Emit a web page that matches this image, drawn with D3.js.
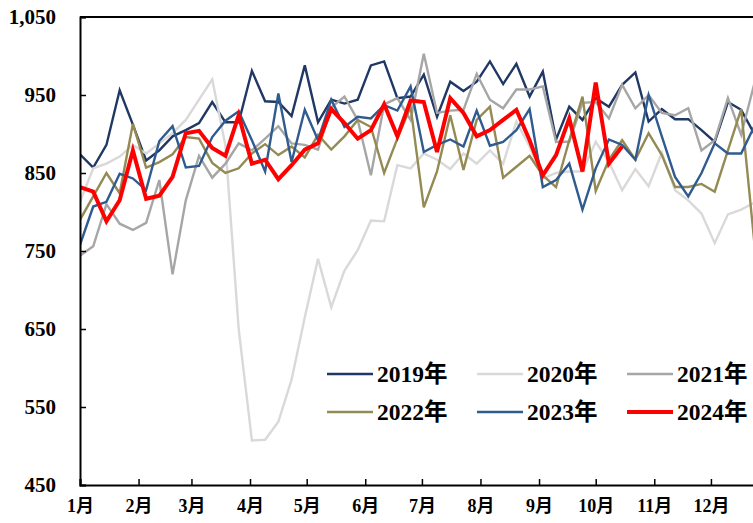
<!DOCTYPE html>
<html lang="zh">
<head>
<meta charset="UTF-8">
<title>周度走势 2019-2024</title>
<script src="https://cdn.jsdelivr.net/npm/d3@7"></script>
<style>
  body {margin: 0; background: #fff;}
  svg {display: block;}
  text {font-family: "Liberation Serif", "Times New Roman", "Noto Sans CJK SC", serif; font-weight: bold; fill: #000;}
</style>
</head>
<body>
<svg id="chart"></svg>
<script>
// DATA: weekly values, one point every 7 days from Jan 1
const months = ["1月","2月","3月","4月","5月","6月","7月","8月","9月","10月","11月","12月"];
const monthStartDay = [0,31,59,90,120,151,181,212,243,273,304,334];
const yTicks = [450,550,650,750,850,950,1050];

const y2019 = [874,857,886,956,912,866,879,897,905,914,941,915,915,981,942,941,923,988,915,944,
               939,944,988,993,946,948,976,922,967,955,967,993,964,990,948,980,893,935,918,946,
               935,963,979,916,932,919,919,905,890,941,931,900];
const y2020 = [813,856,862,871,886,875,888,901,918,944,970,885,650,507,508,531,585,665,740,678,
               725,751,789,788,860,856,875,867,855,875,862,879,862,916,884,843,850,852,852,890,
               864,828,855,833,876,828,815,798,760,797,803,812];
const y2021 = [744,756,810,785,777,786,841,720,815,872,844,862,888,879,894,910,888,886,880,934,
               948,918,847,938,946,918,1003,927,930,931,977,944,933,957,957,961,890,890,940,941,
               920,963,933,950,927,924,933,879,892,946,899,965];
const y2022 = [790,820,850,824,913,857,864,874,896,894,863,850,856,875,887,873,884,870,899,880,
               897,918,909,850,894,935,806,852,924,854,918,935,844,858,872,847,832,892,948,827,
               867,892,867,901,873,832,832,836,826,879,932,760];
const y2023 = [758,807,813,849,843,828,891,910,857,859,896,917,929,892,852,952,864,931,892,944,
               909,922,920,937,930,961,877,886,893,884,930,885,890,905,932,832,841,862,803,856,
               893,886,867,950,897,845,820,850,888,875,875,910];
const y2024 = [832,826,788,815,879,817,821,845,901,904,882,872,924,862,867,842,860,880,888,932,
               914,894,905,938,897,943,941,877,946,927,897,905,918,931,892,847,873,920,852,966,
               862,884];

const series = [
    {name: "2019年", values: y2019, color: "#1F3864", width: 2.4},
    {name: "2020年", values: y2020, color: "#D9D9D9", width: 2.4},
    {name: "2021年", values: y2021, color: "#A6A6A6", width: 2.4},
    {name: "2022年", values: y2022, color: "#948A54", width: 2.4},
    {name: "2023年", values: y2023, color: "#2F5B8F", width: 2.4},
    {name: "2024年", values: y2024, color: "#FF0000", width: 4}
];

// Dimensions
const W = 753, H = 523;
const plot = {left: 80, top: 17, right: 769.5, bottom: 485};

const svg = d3.select("#chart").attr("width", W).attr("height", H);

const x = d3.scaleLinear().domain([0, 365]).range([plot.left, plot.right]);
const y = d3.scaleLinear().domain([450, 1050]).range([plot.bottom, plot.top]);

svg.append("defs").append("clipPath").attr("id", "clip")
   .append("rect")
     .attr("x", plot.left).attr("y", plot.top - 5)
     .attr("width", plot.right - plot.left).attr("height", plot.bottom - plot.top + 5);

// Lines
const line = d3.line()
    .x((d, i) => x(i * 7))
    .y(d => y(d));

svg.append("g").attr("clip-path", "url(#clip)")
   .selectAll("path")
   .data(series)
   .join("path")
     .attr("d", d => line(d.values))
     .attr("fill", "none")
     .attr("stroke", d => d.color)
     .attr("stroke-width", d => d.width)
     .attr("stroke-linejoin", "miter");

// Top frame line
svg.append("line")
   .attr("x1", plot.left).attr("x2", W)
   .attr("y1", plot.top).attr("y2", plot.top)
   .attr("stroke", "#000").attr("stroke-width", 2);

// Y axis
const yAxis = d3.axisLeft(y).tickValues(yTicks).tickSize(-6).tickPadding(24)
    .tickFormat(d3.format(","));
const gy = svg.append("g").attr("transform", `translate(${plot.left},0)`).call(yAxis);
gy.select(".domain").attr("stroke", "#000").attr("stroke-width", 2);
gy.selectAll(".tick line").attr("stroke", "#000").attr("stroke-width", 1.5);
gy.selectAll(".tick text").style("font-size", "21px");

// X axis
const xAxis = d3.axisBottom(x).tickValues(monthStartDay).tickSize(-6).tickPadding(14)
    .tickFormat((d, i) => months[i]);
const gx = svg.append("g").attr("transform", `translate(0,${plot.bottom})`).call(xAxis);
gx.select(".domain").attr("stroke", "#000").attr("stroke-width", 2);
gx.selectAll(".tick line").attr("stroke", "#000").attr("stroke-width", 1.5);
gx.selectAll(".tick text").style("font-size", "18px");

// Legend: 2 rows x 3 columns
const legend = svg.append("g")
    .selectAll("g")
    .data(series)
    .join("g")
      .attr("transform", (d, i) => `translate(${327 + (i % 3) * 150},${374 + Math.floor(i / 3) * 38})`);

legend.append("line")
      .attr("x1", 0).attr("x2", 46)
      .attr("stroke", d => d.color)
      .attr("stroke-width", d => d.width);

legend.append("text")
      .attr("x", 50).attr("dy", "0.35em")
      .style("font-size", "23.5px")
      .text(d => d.name);
</script>
</body>
</html>
